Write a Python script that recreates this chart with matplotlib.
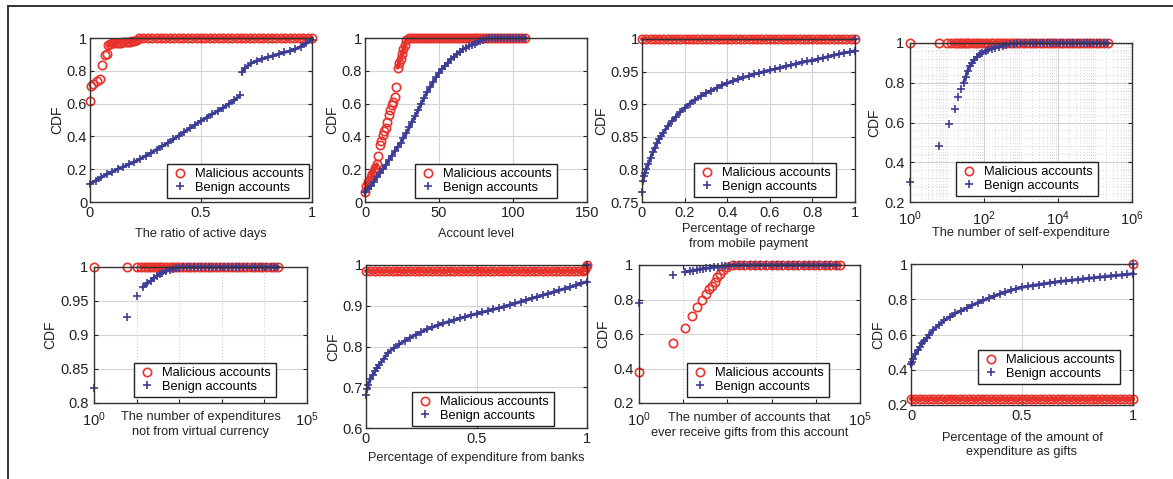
import matplotlib
matplotlib.use("Agg")
import matplotlib.pyplot as plt
from matplotlib.lines import Line2D
from matplotlib.ticker import LogLocator, NullFormatter, MultipleLocator

plt.rcParams['font.family'] = ['Liberation Sans', 'DejaVu Sans']
plt.rcParams['mathtext.fontset'] = 'custom'
plt.rcParams['mathtext.rm'] = 'Liberation Sans'
plt.rcParams['mathtext.it'] = 'Liberation Sans:italic'

W, H = 1173, 479
RED = '#e8322c'
BLUE = '#3d3d95'

## dados
# 1 - ratio of active days
mal1_x = [0.0, 0.005, 0.015, 0.03, 0.045, 0.053, 0.068, 0.075, 0.083, 0.09, 0.1, 0.11, 0.12,
          0.13, 0.14, 0.15, 0.16, 0.17, 0.18, 0.19, 0.2, 0.21, 0.22]
mal1_y = [0.616, 0.707, 0.72, 0.74, 0.748, 0.835, 0.896, 0.9, 0.957, 0.965, 0.967, 0.968, 0.97,
          0.97, 0.972, 0.973, 0.975, 0.976, 0.978, 0.98, 0.983, 0.99, 0.997]
mal1_tail = [0.24, 0.26, 0.28, 0.3, 0.32, 0.34, 0.36, 0.38, 0.4, 0.42, 0.44, 0.46, 0.48, 0.5,
             0.52, 0.54, 0.56, 0.58, 0.6, 0.62, 0.64, 0.66, 0.68, 0.7, 0.72, 0.74, 0.76, 0.78,
             0.8, 0.82, 0.84, 0.86, 0.88, 0.9, 0.92, 0.94, 0.96, 0.98, 1.0]
ben1_x = [0.0, 0.025, 0.05, 0.075, 0.1, 0.125, 0.15, 0.175, 0.2, 0.225, 0.25, 0.275, 0.3, 0.325,
          0.35, 0.375, 0.4, 0.425, 0.45, 0.475, 0.5, 0.525, 0.55, 0.575, 0.6, 0.625, 0.65, 0.675,
          0.685, 0.7, 0.725, 0.75, 0.775, 0.8, 0.825, 0.85, 0.875, 0.9, 0.925, 0.95, 0.975, 1.0]
ben1_y = [0.11, 0.13, 0.15, 0.168, 0.185, 0.2, 0.215, 0.23, 0.245, 0.262, 0.28, 0.3, 0.32, 0.34,
          0.36, 0.382, 0.405, 0.428, 0.45, 0.472, 0.495, 0.515, 0.535, 0.555, 0.575, 0.598, 0.62, 0.65,
          0.79, 0.82, 0.845, 0.86, 0.872, 0.882, 0.892, 0.902, 0.912, 0.92, 0.932, 0.948, 0.968, 0.99]

# 2 - account level
mal2_x = [0, 1, 2, 3, 4, 5, 6, 7, 8, 9, 10, 11, 12, 13, 14, 15, 16, 17, 18, 19, 20, 21, 22, 23,
          24, 25, 26, 27, 28]
mal2_y = [0.06, 0.1, 0.12, 0.13, 0.15, 0.17, 0.19, 0.21, 0.23, 0.28, 0.35, 0.37, 0.41, 0.43, 0.45,
          0.49, 0.53, 0.56, 0.59, 0.61, 0.64, 0.7, 0.82, 0.85, 0.87, 0.9, 0.93, 0.96, 0.99]
mal2_tail = [30, 32, 34, 36, 38, 40, 42, 44, 46, 48, 50, 52, 54, 56, 58, 60, 62, 64, 66, 68, 70,
             72, 74, 76, 78, 80, 82, 84, 86, 88, 90, 92, 94, 96, 98, 100, 102, 104, 106, 108]
ben2_x = [0, 2, 4, 6, 8, 10, 12, 14, 16, 18, 20, 22, 24, 26, 28, 30, 32, 34, 36, 38, 40, 42, 44,
          46, 48, 50, 52, 54, 56, 58, 60, 62, 64, 66, 68, 70, 72, 74, 76, 78, 80, 82, 84]
ben2_y = [0.06, 0.08, 0.1, 0.125, 0.15, 0.175, 0.2, 0.225, 0.255, 0.28, 0.31, 0.335, 0.36, 0.39,
          0.42, 0.455, 0.49, 0.525, 0.56, 0.6, 0.635, 0.67, 0.7, 0.73, 0.76, 0.785, 0.81, 0.83, 0.85,
          0.87, 0.885, 0.9, 0.915, 0.93, 0.94, 0.95, 0.958, 0.965, 0.975, 0.983, 0.99, 0.995, 1.0]
ben2_tail = [86, 88, 90, 92, 94, 96, 98, 100, 102, 104, 106, 108]

# 3 - recharge from mobile payment
mal3_x = [0.0, 0.02, 0.04, 0.06, 0.08, 0.1, 0.12, 0.14, 0.16, 0.18, 0.2, 0.22, 0.24, 0.26, 0.28,
          0.3, 0.32, 0.34, 0.36, 0.38, 0.4, 0.42, 0.44, 0.46, 0.48, 0.5, 0.52, 0.54, 0.56, 0.58,
          0.6, 0.62, 0.64, 0.66, 0.68, 0.7, 0.72, 0.74, 0.76, 0.78, 0.8, 0.82, 0.84, 0.86, 0.88,
          0.9, 0.92, 0.94, 0.96, 0.98, 1.0]
ben3_x = [0.0, 0.005, 0.01, 0.015, 0.02, 0.03, 0.04, 0.05, 0.06, 0.07, 0.08, 0.09, 0.1, 0.12,
          0.14, 0.16, 0.18, 0.2, 0.225, 0.25, 0.275, 0.3, 0.325, 0.35, 0.375, 0.4, 0.425, 0.45,
          0.475, 0.5, 0.525, 0.55, 0.575, 0.6, 0.625, 0.65, 0.675, 0.7, 0.725, 0.75, 0.775, 0.8,
          0.825, 0.85, 0.875, 0.9, 0.925, 0.95, 0.975, 1.0, 1.0]
ben3_y = [0.765, 0.782, 0.79, 0.795, 0.8, 0.808, 0.817, 0.826, 0.833, 0.84, 0.846, 0.851, 0.856,
          0.866, 0.874, 0.881, 0.888, 0.894, 0.901, 0.907, 0.912, 0.917, 0.921, 0.925, 0.929, 0.932,
          0.935, 0.938, 0.941, 0.943, 0.946, 0.948, 0.95, 0.952, 0.954, 0.956, 0.958, 0.96, 0.962,
          0.964, 0.966, 0.967, 0.969, 0.971, 0.973, 0.975, 0.977, 0.979, 0.98, 0.982, 1.0]

# 4 - self-expenditure (log)
mal4_x = [1, 6, 10, 13, 16, 19, 22, 26, 30, 35, 40, 50, 60, 70, 85, 100, 120, 150, 180, 220, 270,
          330, 400, 500, 600, 750, 900, 1100, 1400, 1700, 2100, 2600, 3200, 4000, 5000, 6000, 7500,
          9000, 11000, 14000, 17000, 21000, 26000, 32000, 40000, 50000, 60000, 75000, 90000,
          110000, 140000, 170000, 220000]
ben4_x = [1, 6, 11, 16, 20, 24, 28, 32, 36, 42, 48, 55, 65, 78, 90, 110, 130, 160, 200, 250, 320,
          400, 500, 650, 800]
ben4_y = [0.3, 0.48, 0.59, 0.67, 0.73, 0.77, 0.8, 0.83, 0.86, 0.885, 0.9, 0.915, 0.93, 0.945,
          0.952, 0.96, 0.966, 0.971, 0.976, 0.981, 0.986, 0.99, 0.994, 0.997, 0.999]
ben4_tail = [1000, 1300, 1700, 2100, 2600, 3200, 4000, 5000, 6000, 7500, 9000, 11000, 14000,
             17000, 21000, 26000, 32000, 40000, 50000, 60000, 75000, 90000, 110000, 140000,
             170000, 210000]

# 5 - expenditures not from virtual currency (log)
mal5_x = [1, 6, 10, 13, 16, 19, 22, 26, 30, 35, 40, 50, 60, 70, 85, 100, 120, 150, 180, 220, 270,
          330, 400, 500, 600, 750, 900, 1100, 1400, 1700, 2100, 2600, 3200, 4000, 5000, 6000, 7500,
          9000, 11000, 14000, 17000, 21000]
ben5_x = [1, 6, 10, 14, 18, 22, 26, 30, 35, 40, 50, 60, 70, 85, 100]
ben5_y = [0.822, 0.926, 0.958, 0.97, 0.976, 0.98, 0.984, 0.987, 0.989, 0.991, 0.994, 0.996, 0.997,
          0.998, 0.999]
ben5_tail = [120, 150, 180, 220, 270, 330, 400, 500, 600, 750, 900, 1100, 1400, 1700, 2100, 2600,
             3200, 4000, 5000, 6000, 7500, 9000, 11000, 14000, 17000, 20000]

# 6 - expenditure from banks
mal6_x = mal3_x[:-1]
mal6_level = 0.985
mal6_end_x = [0.985, 0.99, 0.995, 1.0]
mal6_end_y = [0.988, 0.99, 0.994, 1.0]
ben6_x = [0.0, 0.005, 0.01, 0.02, 0.03, 0.04, 0.05, 0.06, 0.08, 0.1, 0.125, 0.15, 0.175, 0.2,
          0.225, 0.25, 0.275, 0.3, 0.325, 0.35, 0.375, 0.4, 0.425, 0.45, 0.475, 0.5, 0.525, 0.55,
          0.575, 0.6, 0.625, 0.65, 0.675, 0.7, 0.725, 0.75, 0.775, 0.8, 0.825, 0.85, 0.875, 0.9,
          0.925, 0.95, 0.975, 1.0, 1.0]
ben6_y = [0.68, 0.695, 0.705, 0.72, 0.73, 0.74, 0.748, 0.755, 0.77, 0.785, 0.796, 0.805, 0.814,
          0.822, 0.829, 0.836, 0.842, 0.847, 0.852, 0.857, 0.861, 0.865, 0.869, 0.873, 0.877, 0.88,
          0.884, 0.887, 0.891, 0.894, 0.898, 0.902, 0.906, 0.91, 0.914, 0.918, 0.922, 0.926, 0.93,
          0.934, 0.938, 0.942, 0.946, 0.95, 0.955, 0.959, 1.0]

# 7 - accounts that receive gifts (log)
mal7_x = [1, 6, 11, 16, 21, 27, 33, 39, 46, 52, 59, 68, 78, 96, 135]
mal7_y = [0.38, 0.546, 0.633, 0.704, 0.758, 0.8, 0.83, 0.86, 0.88, 0.9, 0.93, 0.95, 0.97, 0.99, 1.0]
mal7_tail = [180, 240, 320, 420, 560, 750, 1000, 1300, 1700, 2300, 3000, 4000, 5300, 7000, 9300,
             12000, 16000, 21000, 28000, 35000]
ben7_x = [1, 6, 11, 14, 17, 20, 24, 28, 33, 40, 50, 60, 75, 90, 110, 140, 180]
ben7_y = [0.78, 0.94, 0.96, 0.965, 0.968, 0.972, 0.975, 0.978, 0.98, 0.983, 0.986, 0.989, 0.992,
          0.994, 0.996, 0.998, 0.999]
ben7_tail = [240, 320, 420, 560, 750, 1000, 1300, 1700, 2300, 3000, 4000, 5300, 7000, 9300,
             12000, 16000, 21000, 28000]

# 8 - amount of expenditure as gifts
mal8_x = mal3_x
mal8_level = 0.232
ben8_x = [0.0, 0.005, 0.01, 0.02, 0.03, 0.04, 0.05, 0.06, 0.07, 0.08, 0.1, 0.125, 0.15, 0.175,
          0.2, 0.225, 0.25, 0.275, 0.3, 0.325, 0.35, 0.375, 0.4, 0.425, 0.45, 0.475, 0.5, 0.525,
          0.55, 0.575, 0.6, 0.625, 0.65, 0.675, 0.7, 0.725, 0.75, 0.775, 0.8, 0.825, 0.85, 0.875,
          0.9, 0.925, 0.95, 0.975, 1.0, 1.0]
ben8_y = [0.43, 0.445, 0.46, 0.49, 0.51, 0.53, 0.55, 0.565, 0.58, 0.595, 0.625, 0.655, 0.68, 0.7,
          0.72, 0.735, 0.75, 0.765, 0.78, 0.793, 0.805, 0.818, 0.83, 0.84, 0.85, 0.86, 0.868, 0.873,
          0.878, 0.883, 0.888, 0.893, 0.897, 0.901, 0.905, 0.908, 0.912, 0.915, 0.919, 0.922, 0.926,
          0.929, 0.932, 0.935, 0.938, 0.941, 0.945, 1.0]

xlabels = ['The ratio of active days', 'Account level',
           'Percentage of recharge\nfrom mobile payment', 'The number of self-expenditure',
           'The number of expenditures\nnot from virtual currency',
           'Percentage of expenditure from banks',
           'The number of accounts that\never receive gifts from this account',
           'Percentage of the amount of\nexpenditure as gifts']

## layout (pixels: left, right, top, bottom)
boxes = [(90, 312, 38, 202), (365, 587, 38, 202), (642, 855, 39, 202), (910, 1132, 43, 202),
         (94, 307, 267, 403), (366, 587, 265, 428), (639, 860, 265, 403), (911, 1133, 264, 405)]
legend_centers = [(238, 181), (486, 181), (765, 180), (1027, 179),
                  (205, 380), (483, 409), (758, 380), (1049, 367)]
xlabel_y = [-0.16, -0.16, -0.13, -0.16, -0.06, -0.15, -0.065, -0.19]

fig = plt.figure(figsize=(W / 100, H / 100), dpi=100)
fig.patch.set_facecolor('white')

fig.add_artist(Line2D([8 / W, 1], [1 - 6 / H, 1 - 6 / H], color='#333333', lw=1.4))
fig.add_artist(Line2D([8 / W, 8 / W], [0, 1 - 6 / H], color='#333333', lw=1.4))

# (x, y, trechos densos) para maliciosos e benignos
series = [
    (mal1_x + mal1_tail, mal1_y + [1.0] * len(mal1_tail), [(8, None)],
     ben1_x, ben1_y, [(0, 28), (28, None)]),
    (mal2_x + mal2_tail, mal2_y + [1.0] * len(mal2_tail), [(0, 9), (22, None)],
     ben2_x + ben2_tail, ben2_y + [1.0] * len(ben2_tail), [(0, None)]),
    (mal3_x, [1.0] * len(mal3_x), [(0, None)],
     ben3_x, ben3_y, [(1, -1)]),
    (mal4_x, [1.0] * len(mal4_x), [(3, None)],
     ben4_x + ben4_tail, ben4_y + [1.0] * len(ben4_tail), [(6, None)]),
    (mal5_x, [1.0] * len(mal5_x), [(3, None)],
     ben5_x + ben5_tail, ben5_y + [1.0] * len(ben5_tail), [(3, None)]),
    (mal6_x + mal6_end_x, [mal6_level] * len(mal6_x) + mal6_end_y, [(0, None)],
     ben6_x, ben6_y, [(1, -1)]),
    (mal7_x + mal7_tail, mal7_y + [1.0] * len(mal7_tail), [(13, None)],
     ben7_x + ben7_tail, ben7_y + [1.0] * len(ben7_tail), [(2, None)]),
    (mal8_x + [1.0], [mal8_level] * len(mal8_x) + [1.0], [(0, -1)],
     ben8_x, ben8_y, [(0, -1)]),
]

axes = []
for i, (l, r, t, b) in enumerate(boxes):
    ax = fig.add_axes([l / W, 1 - b / H, (r - l) / W, (b - t) / H])
    axes.append(ax)
    mx, my, mseg, bx, by, bseg = series[i]
    for s0, s1 in mseg:
        ax.plot(mx[s0:s1], my[s0:s1], '-', color=RED, lw=3.0, clip_on=False, zorder=3,
                solid_capstyle='round')
    ax.plot(mx, my, 'o', ms=6, mfc='none', mec=RED, mew=1.2, clip_on=False,
            label='Malicious accounts', zorder=3)
    for s0, s1 in bseg:
        ax.plot(bx[s0:s1], by[s0:s1], '-', color=BLUE, lw=2.2, clip_on=False, zorder=4)
    ax.plot(bx, by, '+', ms=6, mec=BLUE, mew=1.2, clip_on=False,
            label='Benign accounts', zorder=4)
    ax.tick_params(direction='in', top=True, right=True, length=3, width=0.8,
                   labelsize=10.5, pad=3, colors='#222222')
    ax.tick_params(axis='y', pad=2)
    ax.tick_params(which='minor', length=0)
    for s in ax.spines.values():
        s.set_color('#333333')
        s.set_linewidth(1.0)
        s.set_zorder(5)
    ax.set_ylabel('CDF', fontsize=10, labelpad=2, color='#222222')
    ax.set_xlabel(xlabels[i], fontsize=9.2, color='#222222', linespacing=1.3)
    ax.xaxis.set_label_coords(0.5, xlabel_y[i])
    ax.xaxis.label.set_va('top')
    cx, cy = legend_centers[i]
    leg = ax.legend(loc='center', bbox_to_anchor=(cx / W, 1 - cy / H), bbox_transform=fig.transFigure,
                    fontsize=9.3, frameon=True, fancybox=False, edgecolor='#222222', framealpha=1,
                    borderpad=0.35, labelspacing=0.1, handlelength=1.3, handletextpad=0.5,
                    borderaxespad=0)
    leg.get_frame().set_linewidth(1.0)
    leg.set_zorder(6)

GRID = dict(color='#d4d4d4', lw=0.8)

# eixos lineares
ax = axes[0]
ax.set_xlim(0, 1); ax.set_ylim(0, 1)
ax.set_xticks([0, 0.5, 1], ['0', '0.5', '1'])
ax.set_yticks([0, 0.2, 0.4, 0.6, 0.8, 1], ['0', '0.2', '0.4', '0.6', '0.8', '1'])
ax.grid(True, **GRID)

ax = axes[1]
ax.set_xlim(0, 150); ax.set_ylim(0, 1)
ax.set_xticks([0, 50, 100, 150])
ax.set_yticks([0, 0.2, 0.4, 0.6, 0.8, 1], ['0', '0.2', '0.4', '0.6', '0.8', '1'])
ax.grid(True, **GRID)

ax = axes[2]
ax.set_xlim(0, 1); ax.set_ylim(0.75, 1)
ax.set_xticks([0, 0.2, 0.4, 0.6, 0.8, 1], ['0', '0.2', '0.4', '0.6', '0.8', '1'])
ax.set_yticks([0.75, 0.8, 0.85, 0.9, 0.95, 1], ['0.75', '0.8', '0.85', '0.9', '0.95', '1'])
ax.grid(True, **GRID)

# eixos log
ax = axes[3]
ax.set_xscale('log')
ax.set_xlim(1, 1e6); ax.set_ylim(0.2, 1)
ax.set_xticks([1, 1e2, 1e4, 1e6], ['$10^0$', '$10^2$', '$10^4$', '$10^6$'])
ax.xaxis.set_minor_locator(LogLocator(base=10, subs=[1, 2, 3, 4, 5, 6, 7, 8, 9], numticks=20))
ax.xaxis.set_minor_formatter(NullFormatter())
ax.set_yticks([0.2, 0.4, 0.6, 0.8, 1], ['0.2', '0.4', '0.6', '0.8', '1'])
ax.yaxis.set_minor_locator(MultipleLocator(0.04))
ax.grid(True, which='major', **GRID)
ax.grid(True, which='minor', color='#c8c8c8', lw=0.6, ls=(0, (1, 2.5)))

ax = axes[4]
ax.set_xscale('log')
ax.set_xlim(1, 1e5); ax.set_ylim(0.8, 1)
ax.set_xticks([1, 10, 100, 1e3, 1e4, 1e5], ['$10^0$', '', '', '', '', '$10^5$'])
ax.xaxis.set_minor_locator(plt.NullLocator())
ax.set_yticks([0.8, 0.85, 0.9, 0.95, 1], ['0.8', '0.85', '0.9', '0.95', '1'])
ax.grid(True, axis='y', **GRID)
ax.grid(True, axis='x', color='#c4c4c4', lw=0.7, ls=(0, (1, 2)))

ax = axes[5]
ax.set_xlim(0, 1); ax.set_ylim(0.6, 1)
ax.set_xticks([0, 0.5, 1], ['0', '0.5', '1'])
ax.set_yticks([0.6, 0.7, 0.8, 0.9, 1], ['0.6', '0.7', '0.8', '0.9', '1'])
ax.grid(True, **GRID)

ax = axes[6]
ax.set_xscale('log')
ax.set_xlim(1, 1e5); ax.set_ylim(0.2, 1)
ax.set_xticks([1, 10, 100, 1e3, 1e4, 1e5], ['$10^0$', '', '', '', '', '$10^5$'])
ax.xaxis.set_minor_locator(plt.NullLocator())
ax.set_yticks([0.2, 0.4, 0.6, 0.8, 1], ['0.2', '0.4', '0.6', '0.8', '1'])
ax.grid(True, axis='y', **GRID)
ax.grid(True, axis='x', color='#c4c4c4', lw=0.7, ls=(0, (1, 2)))

ax = axes[7]
ax.set_xlim(0, 1); ax.set_ylim(0.2, 1)
ax.set_xticks([0, 0.5, 1], ['0', '0.5', '1'])
ax.set_yticks([0.2, 0.4, 0.6, 0.8, 1], ['0.2', '0.4', '0.6', '0.8', '1'])
ax.grid(True, **GRID)

# afastar rótulos do canto nos eixos log
for k in (3, 4, 6):
    axes[k].tick_params(axis='x', pad=5)
    axes[k].tick_params(axis='y', pad=4)

for ax in axes:
    ax.set_axisbelow(True)

fig.savefig('out.png', dpi=100, facecolor='white')
